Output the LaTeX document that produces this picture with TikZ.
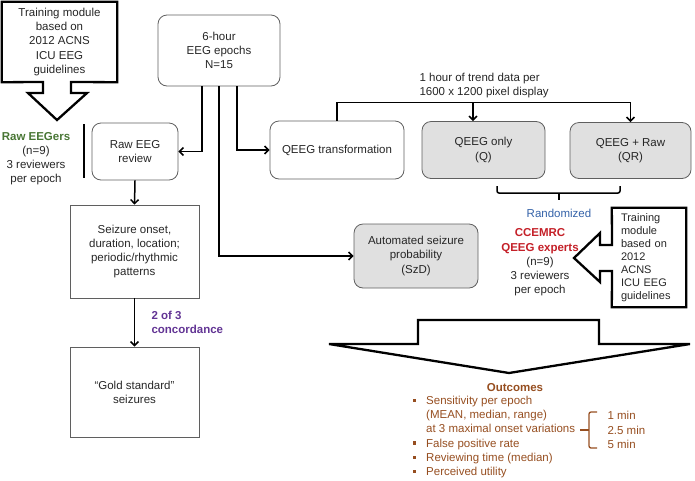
\documentclass[tikz,border=0pt]{standalone}
\usepackage{fontspec}
\setmainfont{Liberation Sans}
\usetikzlibrary{arrows.meta}

\definecolor{boxgray}{RGB}{224,224,224}
\definecolor{edgegray}{RGB}{95,95,95}
\definecolor{eegreen}{RGB}{72,118,52}
\definecolor{qred}{RGB}{196,32,40}
\definecolor{randblue}{RGB}{52,98,168}
\definecolor{concpurple}{RGB}{98,52,148}
\definecolor{outbrown}{RGB}{150,78,32}

\newcommand{\sqbullet}{\rule[2.5pt]{3.2pt}{3.2pt}}

\tikzset{
  rbox/.style={draw=edgegray, line width=0.8pt, rounded corners=9pt, align=center, inner sep=0pt},
  gbox/.style={rbox, fill=boxgray},
  sbox/.style={draw=edgegray, line width=0.8pt, align=center, inner sep=0pt},
  conn/.style={line width=1.5pt, -{Straight Barb[length=4pt,width=8pt]}},
  blockarrow/.style={line width=2.3pt, line join=miter},
}

\begin{document}
\begin{tikzpicture}[x=1pt, y=-1pt, font=\fontsize{11.5}{14.2}\selectfont, text=black!85]

\useasboundingbox (0,0) rectangle (695,480);

% === Training module (left) ===
\node[align=center, minimum width=115pt, minimum height=80pt, inner sep=0pt] (trainL) at (59.5,42) {Training module\\based on\\2012 ACNS\\ICU EEG\\guidelines};
\draw[blockarrow] (trainL.south west) -- (trainL.north west) -- (trainL.north east) -- (trainL.south east)
    -- (71,82) -- (71,93) -- (87,93) -- (57,120) -- (28,93) -- (43,93) -- (43,82) -- cycle;

% === Epochs and raw review ===
\node[rbox, minimum width=122pt, minimum height=71pt] (epochs) at (219,50.5) {6-hour\\EEG epochs\\N=15};
\node[rbox, minimum width=86pt, minimum height=57pt] (rawrev) at (135,151.5) {Raw EEG\\review};
\node[sbox, minimum width=129pt, minimum height=93pt] (seiz) at (134.5,251.5) {Seizure onset,\\duration, location;\\periodic/rhythmic\\patterns};
\node[sbox, minimum width=129pt, minimum height=90pt] (gold) at (134.5,392) {``Gold standard''\\seizures};

\node[align=center] (raweeg) at (36,158.5) {\textcolor{eegreen}{\textbf{Raw EEGers}}\\(n=9)\\3 reviewers\\per epoch};
\draw[line width=1.5pt] (84,124) -- (84,178);

\node[align=left, anchor=west, text=concpurple, font=\fontsize{11.5}{14.2}\selectfont\bfseries] (conc) at (148,322) {2 of 3\\concordance};

% === QEEG branch ===
\node[rbox, minimum width=134pt, minimum height=58pt] (qtrans) at (337,150) {QEEG transformation};
\node[gbox, minimum width=123pt, minimum height=57pt] (qonly) at (483.5,150) {QEEG only\\(Q)};
\node[gbox, minimum width=121pt, minimum height=56pt] (qraw) at (630.5,150.5) {QEEG + Raw\\(QR)};
\node[gbox, minimum width=124pt, minimum height=64pt] (szd) at (416,256) {Automated seizure\\probability\\(SzD)};

\node[align=left, anchor=west] (trendtxt) at (416,85.5) {1 hour of trend data per\\1600 x 1200 pixel display};
\coordinate (trendQ) at (473,103);

% Randomization bracket
\draw[line width=1.5pt, rounded corners=2pt] (497,186) -- (497,193) -- (620,193) -- (620,186);
\draw[line width=1.5pt] (559,193) -- (559,200);
\node[text=randblue] (rand) at (559,213) {Randomized};

\node[align=center] (qexp) at (540,262.5) {\textcolor{qred}{\textbf{CCEMRC}}\\\textcolor{qred}{\textbf{QEEG experts}}\\(n=9)\\3 reviewers\\per epoch};

% === Training module (right) ===
\node[align=left, text width=56pt, minimum width=74pt, minimum height=99pt, inner sep=0pt, font=\fontsize{11}{13}\selectfont] (trainR) at (649,257.5) {Training\\module\\based on\\2012\\ACNS\\ICU EEG\\guidelines};
\draw[blockarrow] (trainR.south west) -- (612,271) -- (600,271) -- (600,282) -- (574,258) -- (600,233)
    -- (600,245) -- (612,245) -- (trainR.north west) -- (trainR.north east) -- (trainR.south east) -- cycle;

% === Connectors ===
\draw[conn] ([xshift=-17pt]epochs.south) |- (rawrev.east);
\draw[conn] ([xshift=18pt]epochs.south) |- (qtrans.west);
\draw[conn] (epochs.south) |- (szd.west);
\draw[conn] (rawrev.south) -- (seiz.north);
\draw[conn] (seiz.south) -- (gold.north);
\draw[conn] (qtrans.north) -- ++(0,-18) -| (qraw.north);
\draw[conn] (trendQ) -- (trendQ |- qonly.north);

% === Outcomes ===
\draw[blockarrow] (418,320) -- (599,320) -- (599,344) -- (690,344) -- (509,373) -- (329,344) -- (418,344) -- cycle;

\node[text=outbrown, font=\fontsize{11.5}{14.2}\selectfont\bfseries] (outhead) at (515,388) {Outcomes};
\node[text=outbrown, align=left, anchor=west, inner sep=0pt] (outlist) at (413,437) {%
  \makebox[13pt][l]{\sqbullet}Sensitivity per epoch\\
  \hspace*{13pt}(MEAN, median, range)\\
  \hspace*{13pt}at 3 maximal onset variations\\
  \makebox[13pt][l]{\sqbullet}False positive rate\\
  \makebox[13pt][l]{\sqbullet}Reviewing time (median)\\
  \makebox[13pt][l]{\sqbullet}Perceived utility};
\draw[outbrown, line width=1.3pt, rounded corners=2pt] (597,412) -- (589,412) -- (589,448) -- (597,448);
\draw[outbrown, line width=1.3pt] (589,430) -- (580,430);
\node[text=outbrown, align=left, anchor=west] (mins) at (604,430) {1 min\\2.5 min\\5 min};

\end{tikzpicture}
\end{document}
